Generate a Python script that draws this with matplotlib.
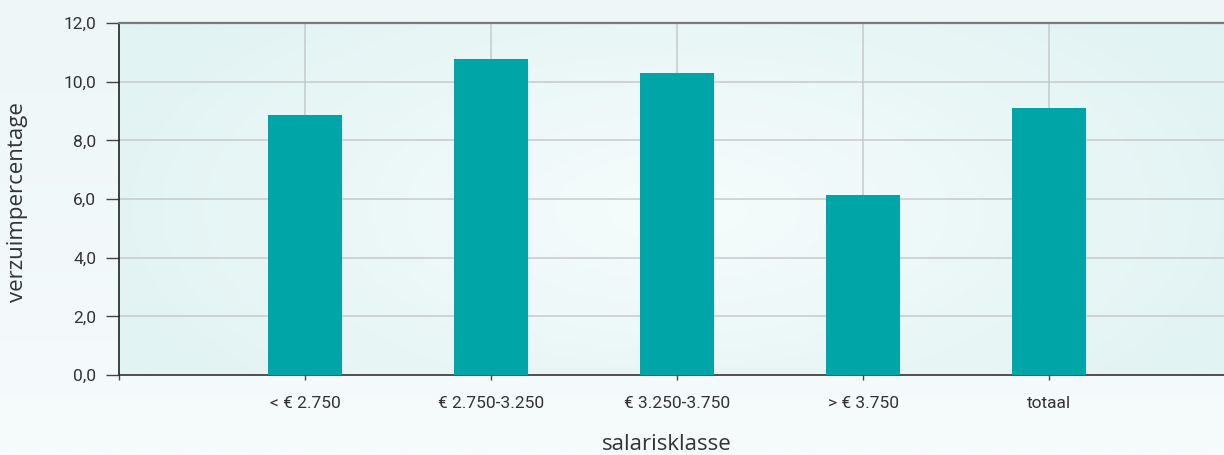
import numpy as np
import matplotlib
matplotlib.use("Agg")
import matplotlib.pyplot as plt
from matplotlib.colors import LinearSegmentedColormap

categories = ["< € 2.750", "€ 2.750-3.250", "€ 3.250-3.750", "> € 3.750", "totaal"]
values = [8.87, 10.78, 10.3, 6.15, 9.1]
yticks = [0, 2, 4, 6, 8, 10, 12]

W, H = 1224, 455
fig = plt.figure(figsize=(W / 100, H / 100), dpi=100)

# figure background gradient (vertical)
bg = fig.add_axes([0, 0, 1, 1], zorder=-10)
g = np.linspace(0, 1, 200).reshape(-1, 1)
cm_fig = LinearSegmentedColormap.from_list("f", ["#eef6f8", "#f6fbfc"])
bg.imshow(g, aspect="auto", cmap=cm_fig, extent=[0, 1, 0, 1], origin="upper")
bg.axis("off")

left, right, top, bottom = 119, 1224, 23, 375
ax = fig.add_axes([left / W, (H - bottom) / H, (right - left) / W, (bottom - top) / H])

xmax = 5.94
ax.set_xlim(0, xmax)
ax.set_ylim(0, 12)

# radial gradient inside axes
nx, ny = 400, 150
xx, yy = np.meshgrid(np.linspace(-1, 1, nx), np.linspace(-1, 1, ny))
cx = (677 - left) / (right - left) * 2 - 1
cy = (210 - top) / (bottom - top) * 2 - 1
r = np.sqrt(((xx - cx) / 1.1) ** 2 + ((yy - cy) / 1.6) ** 2)
r = np.clip(r, 0, 1)
cm_ax = LinearSegmentedColormap.from_list("a", ["#f6fcfc", "#e2f3f3"])
ax.imshow(r, aspect="auto", cmap=cm_ax, extent=[0, xmax, 0, 12], origin="upper", zorder=0)

x = np.arange(1, len(categories) + 1)
ax.bar(x, values, width=0.4, color="#00a5a8", zorder=3)

ax.set_yticks(yticks)
ax.set_yticklabels([f"{v:.1f}".replace(".", ",") for v in yticks])
ax.set_xticks([0] + list(x))
ax.set_xticklabels([""] + categories)

for yv in yticks[1:-1]:
    ax.axhline(yv, color="#c6cacb", lw=1.1, zorder=1)
for xv in x:
    ax.axvline(xv, color="#c6cacb", lw=1.1, zorder=1)

ax.spines["right"].set_visible(False)
ax.spines["top"].set_color("#7a7a7a")
ax.spines["top"].set_linewidth(1.6)
ax.spines["left"].set_color("#222222")
ax.spines["left"].set_linewidth(1.2)
ax.spines["bottom"].set_color("#333333")
ax.spines["bottom"].set_linewidth(1.2)

ax.tick_params(axis="y", length=9.4, width=1, color="#444444", pad=7,
               labelsize=12.5, labelcolor="#333333")
ax.tick_params(axis="x", length=3.5, width=1, color="#444444", pad=11.5,
               labelsize=12.5, labelcolor="#333333")
for lbl in ax.get_yticklabels() + ax.get_xticklabels():
    lbl.set_fontfamily("Roboto")

fig.text(667 / W, 1 - 444 / H, "salarisklasse", ha="center", va="center",
         fontsize=16, color="#333333", family="Open Sans")
fig.text(18 / W, 1 - 202 / H, "verzuimpercentage", ha="center", va="center",
         rotation=90, fontsize=16, color="#333333", family="Open Sans")

fig.savefig("out.png", dpi=100)
